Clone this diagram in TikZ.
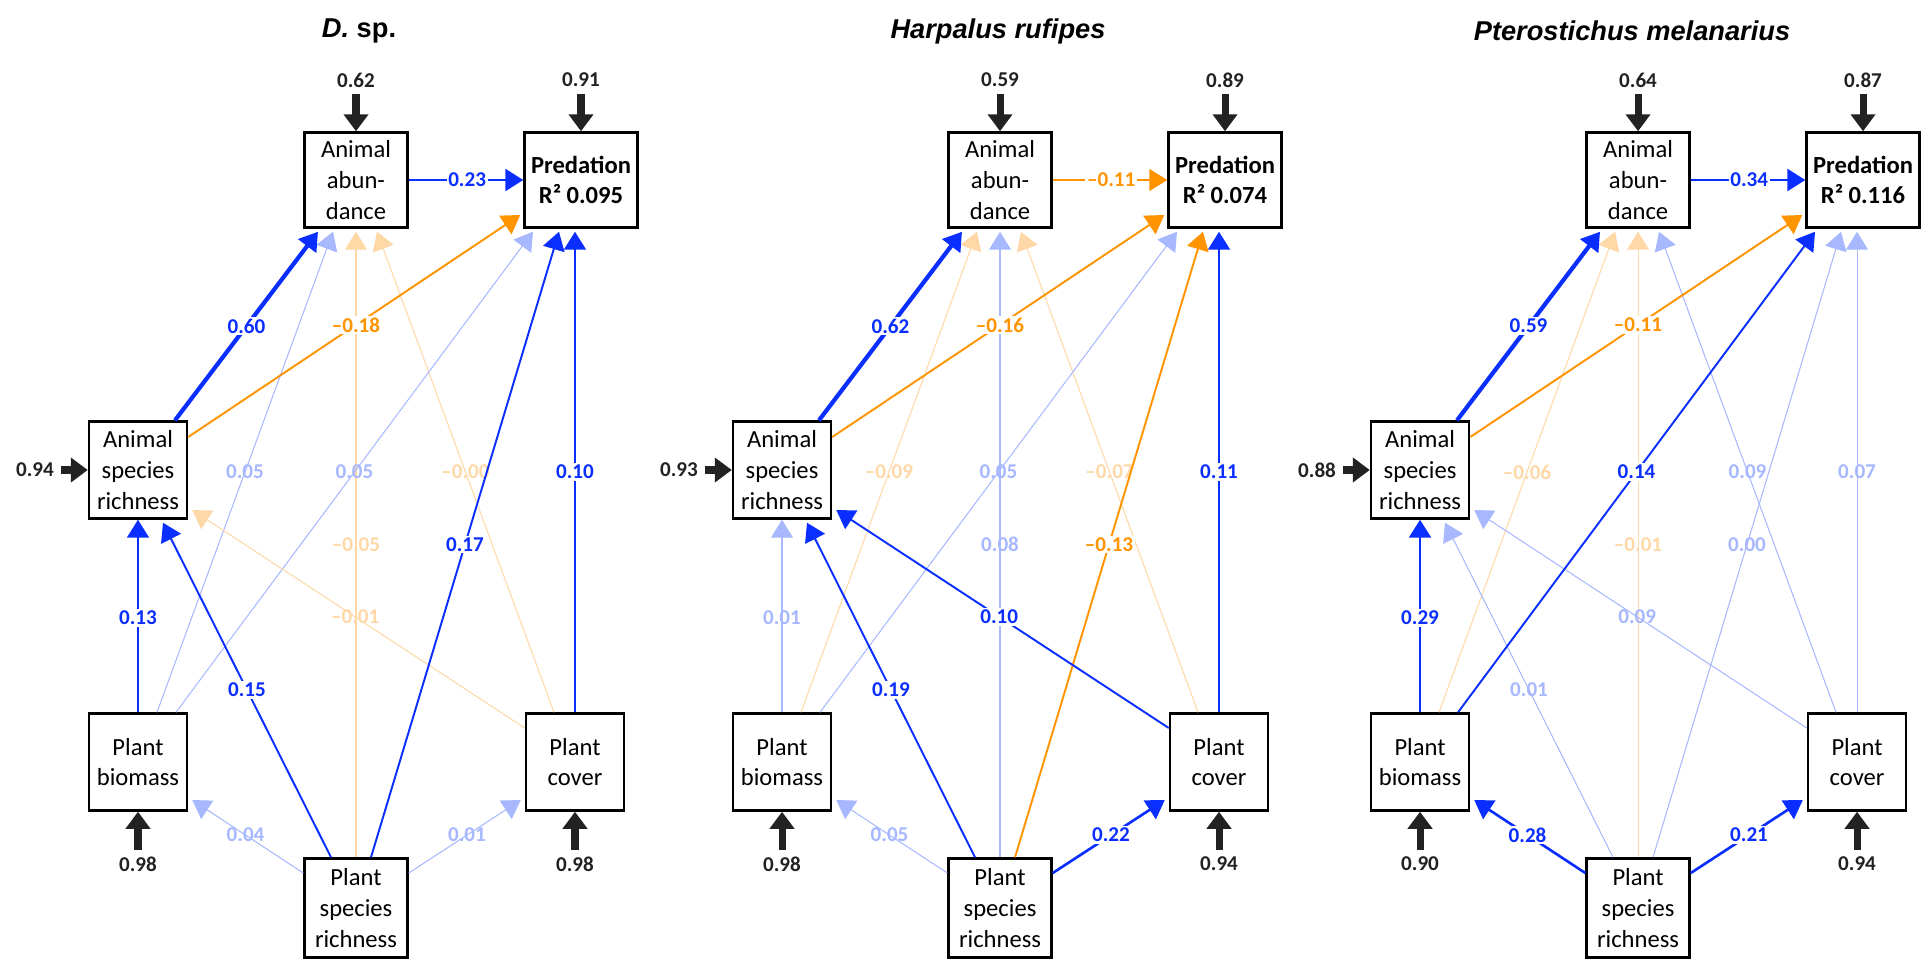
\documentclass[tikz,border=0pt]{standalone}
\usepackage{fontspec}
\setmainfont{Carlito}
\newfontfamily\titlefont{Liberation Sans}
\usepackage{tikz}
\usetikzlibrary{calc, arrows.meta}
\usepackage{xcolor}
\definecolor{pathBlue}{RGB}{10, 46, 255}
\definecolor{pathOrange}{RGB}{255, 148, 0}
\definecolor{weakBlue}{RGB}{168, 184, 255}
\definecolor{weakOrange}{RGB}{255, 216, 168}
\definecolor{exoGray}{RGB}{34, 34, 34}

\begin{document}
\begin{tikzpicture}[
  x=0.2mm, y=-0.2mm,
  box/.style={draw, line width=1.4pt, fill=white, align=center, inner sep=0pt,
              font=\fontsize{14}{17.4}\selectfont},
  boxA/.style={box, minimum width=20.6mm, minimum height=19mm},
  boxP/.style={box, minimum width=22.6mm, minimum height=19mm,
               font=\fontsize{14}{17.4}\selectfont\bfseries},
  boxS/.style={box, minimum width=19.6mm, minimum height=19.4mm},
  boxR/.style={box, minimum width=20.6mm, minimum height=19.8mm},
  title/.style={font=\titlefont\fontsize{15.5}{18}\selectfont\bfseries},
  coef/.style={font=\fontsize{12}{14}\selectfont\bfseries, inner sep=1pt},
  coefbg/.style={coef, fill=white},
  exo/.style={coef, text=exoGray},
  exoarrow/.style={-{Triangle[length=3.4mm, width=4.8mm]}, line width=4pt,
                   exoGray, shorten <=1mm},
  link/.style={-{Triangle[length=3.6mm, width=4.4mm]}},
  weakpos/.style={link, line width=0.6pt, weakBlue},
  weakneg/.style={link, line width=0.6pt, weakOrange},
  sigpos/.style={link, line width=1.1pt, pathBlue},
  signeg/.style={link, line width=1.1pt, pathOrange},
  midpos/.style={sigpos, line width=1.5pt},
  strongpos/.style={sigpos, line width=2.4pt}
]
  \useasboundingbox (0,0) rectangle (1921,959);

  % ── D. sp. ──
  \begin{scope}
    \node[title] (title1) at (359, 31) {\textit{D.} sp.};
    \node[boxA] (abund1) at (356, 180) {Animal\\abun-\\dance};
    \node[boxP] (pred1) at (581, 180) {Predation\\R² 0.095};
    \node[boxS] (arich1) at (138, 470) {Animal\\species\\richness};
    \node[boxS] (biom1) at (138, 762) {Plant\\biomass};
    \node[boxS] (cover1) at (575, 762) {Plant\\cover};
    \node[boxR] (prich1) at (356, 908) {Plant\\species\\richness};

    \node[exo] (ea1) at (356, 80) {0.62};
    \node[exo] (ep1) at (581, 80) {0.91};
    \node[exo] (er1) at (35, 470) {0.94};
    \node[exo] (eb1) at (138, 864) {0.98};
    \node[exo] (ec1) at (575, 864) {0.98};
    \draw[exoarrow] (ea1) -- (abund1);
    \draw[exoarrow] (ep1) -- (pred1);
    \draw[exoarrow] (er1) -- (arich1);
    \draw[exoarrow] (eb1) -- (biom1);
    \draw[exoarrow] (ec1) -- (cover1);

    % weak paths
    \draw[weakpos] ($(biom1.north)+(19,0)$) -- node[coef, pos=0.5] {0.05} ($(abund1.south)+(-23,3)$);
    \draw[weakneg] (prich1.north) -- node[coef, pos=0.5] {\textendash0.05} ($(abund1.south)+(0,3)$);
    \draw[weakneg] ($(cover1.north)+(-21,0)$) -- node[coef, pos=0.5] {\textendash0.00} ($(abund1.south)+(21,3)$);
    \draw[weakpos] ($(biom1.north)+(38,0)$) -- node[coef, pos=0.5] {0.05} ($(pred1.south)+(-48,3)$);
    \draw[weakneg] ($(cover1.west)+(0,-34)$) -- node[coef, pos=0.51] {\textendash0.01} ($(arich1.east)+(4,40)$);
    \draw[weakpos] ($(prich1.west)+(0,-35)$) -- node[coef, pos=0.52] {0.04} ($(biom1.east)+(4,38)$);
    \draw[weakpos] ($(prich1.east)+(0,-35)$) -- node[coef, pos=0.52] {0.01} ($(cover1.west)+(-4,38)$);
    % significant paths
    \draw[strongpos] ($(arich1.north)+(37,0)$) -- node[coefbg, pos=0.5] {0.60} ($(abund1.south)+(-38,3)$);
    \draw[midpos] (abund1) -- node[coefbg, pos=0.51] {0.23} (pred1);
    \draw[signeg] ($(arich1.east)+(0,-33)$) -- node[coefbg, pos=0.505] {\textendash0.18} ($(pred1.west)+(-3,35)$);
    \draw[sigpos] ($(prich1.north)+(15,0)$) -- node[coefbg, pos=0.5] {0.17} ($(pred1.south)+(-22,3)$);
    \draw[sigpos] (cover1.north) -- node[coefbg, pos=0.5] {0.10} ($(pred1.south)+(-6,3)$);
    \draw[sigpos] (biom1) -- node[coefbg, pos=0.49] {0.13} (arich1);
    \draw[sigpos] ($(prich1.north)+(-25,0)$) -- node[coefbg, pos=0.5] {0.15} ($(arich1.south)+(25,3)$);
  \end{scope}

  % ── Harpalus rufipes ──
  \begin{scope}[xshift=128.8mm]
    \node[title] (title2) at (354, 31) {\itshape Harpalus rufipes};
    \node[boxA] (abund2) at (356, 180) {Animal\\abun-\\dance};
    \node[boxP] (pred2) at (581, 180) {Predation\\R² 0.074};
    \node[boxS] (arich2) at (138, 470) {Animal\\species\\richness};
    \node[boxS] (biom2) at (138, 762) {Plant\\biomass};
    \node[boxS] (cover2) at (575, 762) {Plant\\cover};
    \node[boxR] (prich2) at (356, 908) {Plant\\species\\richness};

    \node[exo] (ea2) at (356, 80) {0.59};
    \node[exo] (ep2) at (581, 80) {0.89};
    \node[exo] (er2) at (35, 470) {0.93};
    \node[exo] (eb2) at (138, 864) {0.98};
    \node[exo] (ec2) at (575, 864) {0.94};
    \draw[exoarrow] (ea2) -- (abund2);
    \draw[exoarrow] (ep2) -- (pred2);
    \draw[exoarrow] (er2) -- (arich2);
    \draw[exoarrow] (eb2) -- (biom2);
    \draw[exoarrow] (ec2) -- (cover2);

    % weak paths
    \draw[weakneg] ($(biom2.north)+(19,0)$) -- node[coef, pos=0.5] {\textendash0.09} ($(abund2.south)+(-23,3)$);
    \draw[weakpos] (prich2.north) -- node[coef, pos=0.5] {0.08} ($(abund2.south)+(0,3)$);
    \draw[weakneg] ($(cover2.north)+(-21,0)$) -- node[coef, pos=0.5] {\textendash0.07} ($(abund2.south)+(21,3)$);
    \draw[weakpos] ($(biom2.north)+(38,0)$) -- node[coef, pos=0.5] {0.05} ($(pred2.south)+(-48,3)$);
    \draw[weakpos] (biom2) -- node[coef, pos=0.49] {0.01} (arich2);
    \draw[weakpos] ($(prich2.west)+(0,-35)$) -- node[coef, pos=0.52] {0.05} ($(biom2.east)+(4,38)$);
    % significant paths
    \draw[strongpos] ($(arich2.north)+(37,0)$) -- node[coefbg, pos=0.5] {0.62} ($(abund2.south)+(-38,3)$);
    \draw[signeg] (abund2) -- node[coefbg, pos=0.51] {\textendash0.11} (pred2);
    \draw[signeg] ($(arich2.east)+(0,-33)$) -- node[coefbg, pos=0.505] {\textendash0.16} ($(pred2.west)+(-3,35)$);
    \draw[signeg] ($(prich2.north)+(15,0)$) -- node[coefbg, pos=0.5] {\textendash0.13} ($(pred2.south)+(-22,3)$);
    \draw[sigpos] (cover2.north) -- node[coefbg, pos=0.5] {0.11} ($(pred2.south)+(-6,3)$);
    \draw[sigpos] ($(prich2.north)+(-25,0)$) -- node[coefbg, pos=0.5] {0.19} ($(arich2.south)+(25,3)$);
    \draw[sigpos] ($(cover2.west)+(0,-34)$) -- node[coefbg, pos=0.51] {0.10} ($(arich2.east)+(4,40)$);
    \draw[midpos] ($(prich2.east)+(0,-35)$) -- node[coefbg, pos=0.52] {0.22} ($(cover2.west)+(-4,38)$);
  \end{scope}

  % ── Pterostichus melanarius ──
  \begin{scope}[xshift=256.4mm]
    \node[title] (title3) at (350, 31) {\itshape Pterostichus melanarius};
    \node[boxA] (abund3) at (356, 180) {Animal\\abun-\\dance};
    \node[boxP] (pred3) at (581, 180) {Predation\\R² 0.116};
    \node[boxS] (arich3) at (138, 470) {Animal\\species\\richness};
    \node[boxS] (biom3) at (138, 762) {Plant\\biomass};
    \node[boxS] (cover3) at (575, 762) {Plant\\cover};
    \node[boxR] (prich3) at (356, 908) {Plant\\species\\richness};

    \node[exo] (ea3) at (356, 80) {0.64};
    \node[exo] (ep3) at (581, 80) {0.87};
    \node[exo] (er3) at (35, 470) {0.88};
    \node[exo] (eb3) at (138, 864) {0.90};
    \node[exo] (ec3) at (575, 864) {0.94};
    \draw[exoarrow] (ea3) -- (abund3);
    \draw[exoarrow] (ep3) -- (pred3);
    \draw[exoarrow] (er3) -- (arich3);
    \draw[exoarrow] (eb3) -- (biom3);
    \draw[exoarrow] (ec3) -- (cover3);

    % weak paths
    \draw[weakneg] ($(biom3.north)+(19,0)$) -- node[coef, pos=0.5] {\textendash0.06} ($(abund3.south)+(-23,3)$);
    \draw[weakneg] (prich3.north) -- node[coef, pos=0.5] {\textendash0.01} ($(abund3.south)+(0,3)$);
    \draw[weakpos] ($(cover3.north)+(-21,0)$) -- node[coef, pos=0.5] {0.09} ($(abund3.south)+(21,3)$);
    \draw[weakpos] ($(prich3.north)+(15,0)$) -- node[coef, pos=0.5] {0.00} ($(pred3.south)+(-22,3)$);
    \draw[weakpos] (cover3.north) -- node[coef, pos=0.5] {0.07} ($(pred3.south)+(-6,3)$);
    \draw[weakpos] ($(prich3.north)+(-25,0)$) -- node[coef, pos=0.5] {0.01} ($(arich3.south)+(25,3)$);
    \draw[weakpos] ($(cover3.west)+(0,-34)$) -- node[coef, pos=0.51] {0.09} ($(arich3.east)+(4,40)$);
    % significant paths
    \draw[strongpos] ($(arich3.north)+(37,0)$) -- node[coefbg, pos=0.5] {0.59} ($(abund3.south)+(-38,3)$);
    \draw[midpos] (abund3) -- node[coefbg, pos=0.51] {0.34} (pred3);
    \draw[signeg] ($(arich3.east)+(0,-33)$) -- node[coefbg, pos=0.505] {\textendash0.11} ($(pred3.west)+(-3,35)$);
    \draw[sigpos] ($(biom3.north)+(38,0)$) -- node[coefbg, pos=0.5] {0.14} ($(pred3.south)+(-48,3)$);
    \draw[midpos] (biom3) -- node[coefbg, pos=0.49] {0.29} (arich3);
    \draw[midpos] ($(prich3.west)+(0,-35)$) -- node[coefbg, pos=0.52] {0.28} ($(biom3.east)+(4,38)$);
    \draw[midpos] ($(prich3.east)+(0,-35)$) -- node[coefbg, pos=0.52] {0.21} ($(cover3.west)+(-4,38)$);
  \end{scope}
\end{tikzpicture}
\end{document}
